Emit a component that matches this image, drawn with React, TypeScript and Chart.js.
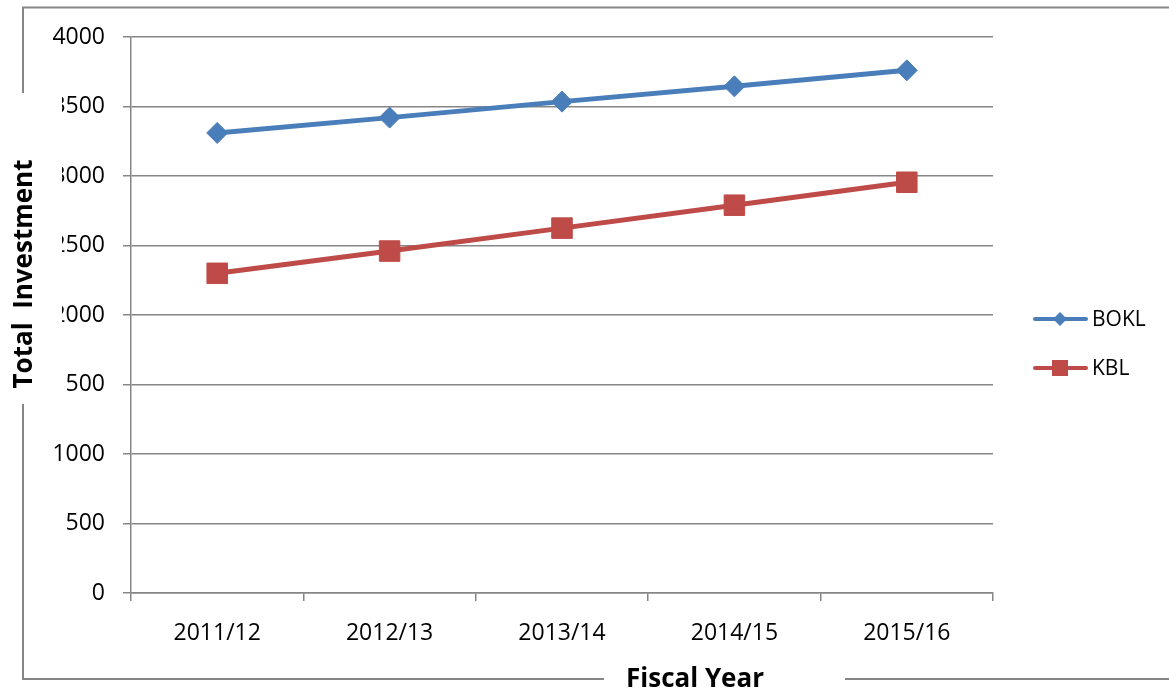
import React, { useEffect, useRef } from "react";
import { Chart, registerables } from "chart.js";

Chart.register(...registerables);

const categories = ["2011/12", "2012/13", "2013/14", "2014/15", "2015/16"];
const bokl = [3310, 3420, 3535, 3645, 3760];
const kbl = [2300, 2460, 2625, 2790, 2955];
const yTickMin = 0;
const yTickMax = 4000;
const yTickStep = 500;
const xTitle = "Fiscal Year";
const yTitle = "Total  Investment";

const BLUE = "#4A7EBB";
const RED = "#BE4B48";
const GRID = "#868686";
const FONT = "'Open Sans', sans-serif";

export default function App() {
  const ref = useRef<HTMLCanvasElement | null>(null);

  useEffect(() => {
    const canvas = ref.current;
    if (!canvas) return;

    const decor = {
      id: "decor",
      afterDraw(chart: any) {
        const ctx = chart.ctx as CanvasRenderingContext2D;
        ctx.save();
        // white box behind the y title (overlaps tick labels as in reference)
        ctx.fillStyle = "#ffffff";
        ctx.fillRect(0, 93, 62, 311);

        // outer frame
        ctx.strokeStyle = GRID;
        ctx.lineWidth = 2;
        ctx.beginPath();
        ctx.moveTo(23, 93);
        ctx.lineTo(23, 7.5);
        ctx.lineTo(1169, 7.5);
        ctx.moveTo(23, 404);
        ctx.lineTo(23, 679);
        ctx.lineTo(604, 679);
        ctx.moveTo(845, 679);
        ctx.lineTo(1169, 679);
        ctx.stroke();

        // axis titles
        ctx.fillStyle = "#000";
        ctx.font = `bold 26px ${FONT}`;
        ctx.textAlign = "center";
        ctx.textBaseline = "alphabetic";
        ctx.fillText(xTitle, 695, 687);
        ctx.save();
        ctx.translate(32, 274);
        ctx.rotate(-Math.PI / 2);
        ctx.fillText(yTitle, 0, 0);
        ctx.restore();

        // legend
        const rows = [319, 368];
        chart.data.datasets.forEach((ds: any, i: number) => {
          const y = rows[i];
          ctx.strokeStyle = ds.borderColor;
          ctx.lineWidth = 4;
          ctx.lineCap = "round";
          ctx.beginPath();
          ctx.moveTo(1035, y);
          ctx.lineTo(1086, y);
          ctx.stroke();
          ctx.fillStyle = ds.borderColor;
          ctx.beginPath();
          if (ds.pointStyle === "rectRot") {
            const r = 7;
            ctx.moveTo(1060 - r, y);
            ctx.lineTo(1060, y - r);
            ctx.lineTo(1060 + r, y);
            ctx.lineTo(1060, y + r);
            ctx.closePath();
          } else {
            ctx.rect(1052, y - 8, 16, 16);
          }
          ctx.fill();
          ctx.fillStyle = "#000";
          ctx.font = `21px ${FONT}`;
          ctx.textAlign = "left";
          ctx.textBaseline = "middle";
          ctx.fillText(ds.label, 1092, y + 1);
        });
        ctx.restore();
      },
    };

    const chart = new Chart(canvas, {
      type: "line",
      data: {
        labels: categories,
        datasets: [
          {
            label: "BOKL",
            data: bokl,
            borderColor: BLUE,
            backgroundColor: BLUE,
            borderWidth: 5,
            pointStyle: "rectRot",
            pointRadius: 10.5,
            pointBorderWidth: 1,
            pointBackgroundColor: BLUE,
            pointBorderColor: BLUE,
            tension: 0,
          },
          {
            label: "KBL",
            data: kbl,
            borderColor: RED,
            backgroundColor: RED,
            borderWidth: 5,
            pointStyle: "rect",
            pointRadius: 14.5,
            pointBorderWidth: 1,
            pointBackgroundColor: RED,
            pointBorderColor: RED,
            tension: 0,
          },
        ],
      },
      options: {
        animation: false,
        responsive: false,
        devicePixelRatio: 1,
        layout: { padding: { left: 0, top: 37, right: 176, bottom: 0 } },
        plugins: {
          legend: { display: false },
          tooltip: { enabled: false },
          title: { display: false },
        },
        scales: {
          x: {
            type: "category",
            offset: true,
            grid: {
              offset: true,
              drawOnChartArea: false,
              drawTicks: true,
              tickLength: 8,
              color: GRID,
              lineWidth: 1.5,
            },
            border: { display: true, color: GRID, width: 1.5 },
            ticks: {
              color: "#000",
              font: { family: FONT, size: 23 },
              padding: 19,
              maxRotation: 0,
              autoSkip: false,
            },
            afterFit: (scale: any) => {
              scale.height = 98;
            },
          },
          y: {
            min: yTickMin,
            max: yTickMax,
            grid: {
              color: GRID,
              lineWidth: 1.5,
              drawTicks: true,
              tickLength: 8,
            },
            border: { display: true, color: GRID, width: 1.5 },
            ticks: {
              stepSize: yTickStep,
              color: "#000",
              font: { family: FONT, size: 23 },
              padding: 18,
              callback: (v: any) => String(v),
            },
            afterFit: (scale: any) => {
              scale.width = 131;
            },
          },
        },
      },
      plugins: [decor],
    });

    return () => chart.destroy();
  }, []);

  return (
    <div style={{ position: "absolute", left: 0, top: 0, width: 1169, height: 691, background: "#fff" }}>
      <canvas ref={ref} width={1169} height={691} style={{ display: "block" }} />
    </div>
  );
}
